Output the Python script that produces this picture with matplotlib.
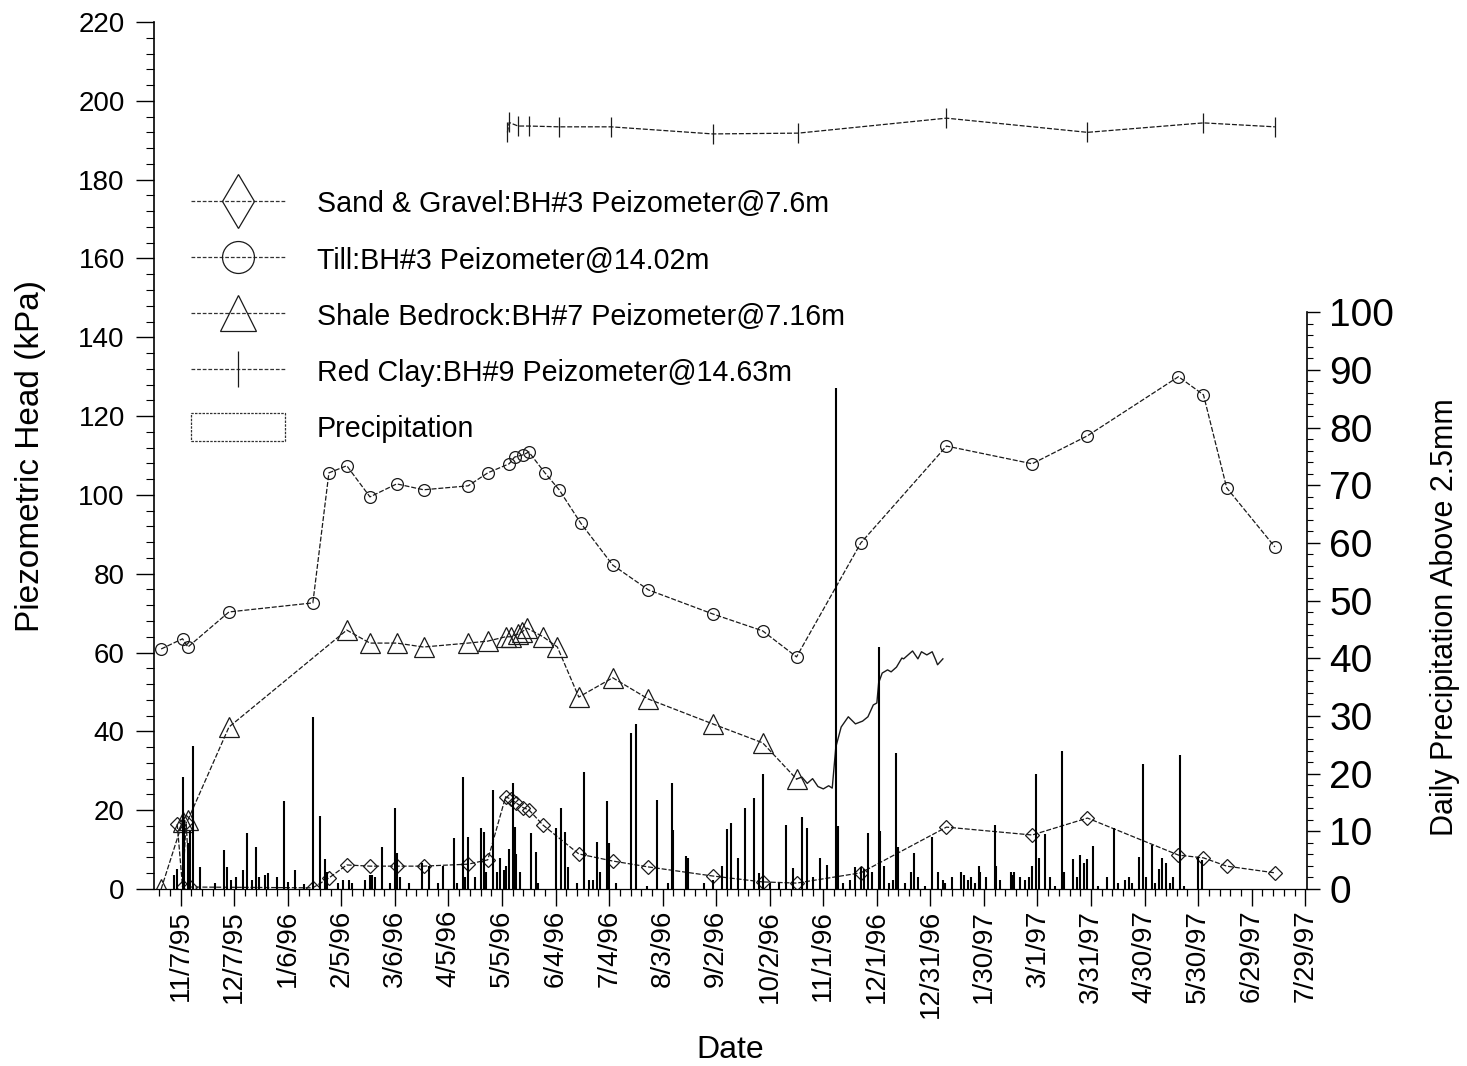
import numpy as np
import pandas as pd
import matplotlib

matplotlib.use('Agg')
import matplotlib.pyplot as plt
from matplotlib.lines import Line2D
from matplotlib.patches import Patch

plt.rcParams['font.family'] = ['Liberation Sans', 'DejaVu Sans']

# Till: BH#3 piezometer @ 14.02 m (kPa)
till_dates = ['1995-10-27', '1995-11-08', '1995-11-11', '1995-12-04', '1996-01-20', '1996-01-29',
              '1996-02-08', '1996-02-21', '1996-03-07', '1996-03-22', '1996-04-16', '1996-04-27',
              '1996-05-09', '1996-05-12', '1996-05-17', '1996-05-20', '1996-05-29', '1996-06-06',
              '1996-06-18', '1996-07-06', '1996-07-26', '1996-08-31', '1996-09-28', '1996-10-17',
              '1996-11-22', '1997-01-09', '1997-02-26', '1997-03-29', '1997-05-19', '1997-06-02',
              '1997-06-15', '1997-07-12']
till_kpa = [60.9, 63.5, 61.4, 70.3, 72.6, 105.6,
            107.4, 99.5, 102.8, 101.3, 102.3, 105.6,
            107.9, 109.6, 110.2, 110.9, 105.6, 101.3,
            92.9, 82.2, 75.9, 69.8, 65.5, 58.9,
            87.8, 112.4, 107.9, 115.0, 130.0, 125.4,
            101.8, 86.8]

# Shale bedrock: BH#7 piezometer @ 7.16 m
shale_dates = ['1995-10-27', '1995-11-08', '1995-11-11', '1995-12-04', '1996-02-08', '1996-02-21',
               '1996-03-07', '1996-03-22', '1996-04-16', '1996-04-27', '1996-05-07', '1996-05-10',
               '1996-05-14', '1996-05-16', '1996-05-19', '1996-05-28', '1996-06-05', '1996-06-17',
               '1996-07-06', '1996-07-26', '1996-08-31', '1996-09-28', '1996-10-17']
shale_kpa = [0.0, 17.0, 17.5, 41.1, 65.7, 62.4,
             62.4, 61.4, 62.4, 62.9, 64.0, 64.0,
             64.7, 65.2, 66.2, 64.0, 61.4, 48.7,
             53.6, 48.2, 41.9, 37.1, 27.9]

# shale logger record (no markers)
logger_dates = ['1996-10-17', '1996-10-20', '1996-10-23', '1996-10-26', '1996-10-29', '1996-11-01',
                '1996-11-04', '1996-11-06', '1996-11-08', '1996-11-11', '1996-11-15', '1996-11-19',
                '1996-11-23', '1996-11-26', '1996-11-29', '1996-12-01', '1996-12-02', '1996-12-04',
                '1996-12-07', '1996-12-09', '1996-12-12', '1996-12-15', '1996-12-16', '1996-12-21',
                '1996-12-24', '1996-12-26', '1996-12-29', '1997-01-01', '1997-01-03', '1997-01-04',
                '1997-01-07']
logger_kpa = [27.9, 28.4, 26.8, 28.0, 26.0, 25.4,
              26.2, 25.6, 36.0, 41.1, 43.7, 41.9,
              42.6, 43.7, 46.7, 47.2, 52.3, 54.8,
              55.6, 55.1, 56.3, 58.6, 58.4, 60.4,
              58.4, 60.2, 59.4, 60.2, 58.1, 56.9,
              58.4]

# Sand & gravel: BH#3 piezometer @ 7.6 m
sand_dates = ['1995-11-05', '1995-11-08', '1995-11-10', '1995-11-12', '1996-01-20', '1996-01-29',
              '1996-02-08', '1996-02-21', '1996-03-07', '1996-03-22', '1996-04-16', '1996-04-27',
              '1996-05-07', '1996-05-10', '1996-05-13', '1996-05-17', '1996-05-20', '1996-05-28',
              '1996-06-17', '1996-07-06', '1996-07-26', '1996-08-31', '1996-09-28', '1996-10-17',
              '1996-11-22', '1997-01-09', '1997-02-26', '1997-03-29', '1997-05-19', '1997-06-02',
              '1997-06-15', '1997-07-12']
sand_kpa = [16.5, 0.5, 17.0, 0.5, 0.3, 2.8,
            6.1, 5.8, 5.8, 5.8, 6.3, 7.4,
            23.4, 22.8, 21.8, 20.6, 20.1, 16.2,
            8.9, 7.1, 5.6, 3.3, 1.8, 1.5,
            4.1, 15.7, 13.7, 18.0, 8.6, 7.9,
            5.8, 4.1]

# Red clay: BH#9 piezometer @ 14.63 m
clay_dates = ['1996-05-08', '1996-05-09', '1996-05-14', '1996-05-20', '1996-06-06', '1996-07-05',
              '1996-08-31', '1996-10-18', '1997-01-09', '1997-03-29', '1997-06-02', '1997-07-12']
clay_kpa = [192.0, 194.5, 193.6, 193.6, 193.4, 193.4,
            191.6, 191.8, 195.6, 192.0, 194.4, 193.4]

# daily precipitation above 2.5 mm, days counted from 11/7/95
rain_day = [-4, -2, 1, 2, 4, 5, 7, 11, 19, 24, 26, 28, 31, 35, 37, 40, 42, 44, 47, 49,
            54, 58, 60, 64, 69, 74, 78, 81, 82, 88, 91, 94, 96, 103, 106, 107, 109, 113, 117, 120,
            121, 123, 128, 135, 139, 144, 147, 153, 155, 158, 159, 161, 165, 168, 170, 171, 175, 177, 179, 181,
            182, 184, 186, 187, 188, 190, 196, 199, 200, 210, 213, 215, 217, 222, 226, 229, 231, 233, 235, 239,
            240, 244, 252, 255, 261, 267, 273, 275, 276, 283, 284, 293, 298, 303, 306, 308, 312, 316, 321, 324,
            326, 330, 335, 339, 343, 348, 351, 354, 358, 362, 367, 368, 371, 375, 378, 381, 383, 385, 387, 391,
            392, 394, 397, 399, 401, 402, 406, 409, 411, 413, 417, 421, 424, 427, 428, 432, 437, 439, 441, 443,
            445, 447, 448, 451, 456, 457, 459, 465, 466, 467, 470, 473, 475, 477, 479, 481, 484, 487, 490, 494,
            495, 500, 502, 504, 506, 508, 511, 514, 519, 523, 525, 529, 531, 533, 537, 539, 541, 544, 546, 548,
            550, 552, 554, 556, 560, 562, 570, 572]
rain_mm = [2.4, 3.5, 19.4, 12.0, 8.0, 10.0, 24.8, 3.8, 1.0, 6.8, 3.8, 1.5, 2.0, 3.3, 9.7, 1.5, 7.3, 2.0, 2.4, 2.8,
           2.0, 15.3, 1.2, 3.3, 0.8, 29.8, 12.7, 5.2, 3.0, 1.0, 1.5, 1.5, 1.0, 1.5, 2.5, 2.5, 2.0, 7.3, 1.0, 14.0,
           6.2, 2.0, 1.0, 4.5, 4.0, 1.0, 4.0, 8.8, 1.0, 19.4, 2.0, 9.0, 2.0, 10.6, 9.9, 3.0, 17.2, 3.0, 5.4, 3.3,
           4.0, 7.0, 18.4, 10.7, 6.0, 3.0, 9.7, 6.4, 1.0, 10.6, 14.0, 9.9, 3.8, 1.0, 20.3, 1.5, 1.5, 8.1, 3.0, 15.3,
           8.0, 1.0, 27.0, 28.6, 0.5, 15.4, 1.0, 18.4, 10.2, 5.7, 5.3, 1.0, 1.5, 4.0, 10.4, 11.4, 5.4, 14.0, 15.8, 2.8,
           19.9, 1.0, 1.0, 11.1, 3.6, 12.5, 10.6, 2.0, 5.4, 4.2, 86.8, 11.0, 1.0, 1.5, 3.8, 3.8, 3.5, 9.7, 3.0, 41.9,
           10.0, 4.0, 1.0, 1.5, 23.6, 7.3, 1.0, 3.0, 6.2, 2.0, 0.5, 9.0, 3.0, 1.5, 1.0, 2.0, 3.0, 2.5, 1.5, 2.0,
           1.0, 4.0, 3.0, 2.0, 11.1, 4.0, 1.5, 3.0, 2.5, 3.0, 2.0, 1.5, 2.0, 4.0, 19.9, 5.4, 9.5, 2.0, 0.5, 23.9,
           3.0, 5.2, 2.0, 5.9, 4.5, 5.2, 7.5, 0.5, 2.0, 10.6, 1.0, 1.5, 2.0, 1.0, 5.6, 21.7, 2.0, 7.6, 1.0, 3.5,
           5.3, 4.5, 1.0, 2.0, 23.2, 0.5, 5.5, 5.0]

series_labels = ['Sand & Gravel:BH#3 Peizometer@7.6m', 'Till:BH#3 Peizometer@14.02m',
                 'Shale Bedrock:BH#7 Peizometer@7.16m', 'Red Clay:BH#9 Peizometer@14.63m', 'Precipitation']


def main():
    fig = plt.figure(figsize=(14.67, 10.66), dpi=100)
    ax = fig.add_axes([154 / 1467, 1 - 889 / 1066, 1153 / 1467, 867 / 1066])
    ax2 = ax.twinx()

    line_kw = dict(color='0.1', lw=0.9, ls=(0, (4, 1.5)), mfc='none', mec='0.1', mew=0.9)

    ax.plot(pd.to_datetime(sand_dates), sand_kpa, marker='D', ms=7, **line_kw)
    ax.plot(pd.to_datetime(till_dates), till_kpa, marker='o', ms=8.5, **line_kw)
    ax.plot(pd.to_datetime(shale_dates), shale_kpa, marker='^', ms=14, **line_kw)
    ax.plot(pd.to_datetime(logger_dates), logger_kpa, color='0.1', lw=1.0)
    ax.plot(pd.to_datetime(clay_dates), clay_kpa, marker='|', ms=15, **line_kw)

    # precipitation on the right axis
    base = pd.Timestamp('1995-11-07')
    rain_dates = base + pd.to_timedelta(rain_day, unit='D')
    ax2.vlines(rain_dates, 0, rain_mm, color='black', lw=1.5)

    # x axis: 30 day majors, 6 day minors
    major = pd.date_range('1995-11-07', '1997-07-29', freq='30D')
    minor = pd.date_range('1995-10-26', '1997-07-29', freq='6D')
    ax.set_xlim(pd.Timestamp('1995-10-23'), pd.Timestamp('1997-07-30'))
    ax.set_xticks(major)
    ax.set_xticks(minor, minor=True)
    ax.set_xticklabels([f'{d.month}/{d.day}/{d:%y}' for d in major], rotation=90, fontsize=20)
    ax.tick_params(axis='x', which='major', length=12, width=1, pad=3)
    ax.tick_params(axis='x', which='minor', length=5, width=0.9)

    ax.set_ylim(0, 220)
    ax.set_yticks(np.arange(0, 221, 20))
    ax.set_yticks(np.arange(0, 221, 4), minor=True)
    ax.tick_params(axis='y', which='major', length=13, width=1, pad=8, labelsize=20)
    ax.tick_params(axis='y', which='minor', length=6, width=0.8)

    ax2.set_ylim(0, 150.3)
    ax2.set_yticks(np.arange(0, 101, 10))
    ax2.set_yticks(np.arange(0, 101, 2), minor=True)
    ax2.tick_params(axis='y', which='major', length=9, width=1, pad=7, labelsize=28)
    ax2.tick_params(axis='y', which='minor', length=4, width=0.8)

    for s in ['top', 'right']:
        ax.spines[s].set_visible(False)
    for s in ['top', 'left', 'bottom']:
        ax2.spines[s].set_visible(False)
    ax2.spines['right'].set_bounds(0, 100)
    ax2.spines['right'].set_linewidth(1.2)
    ax.spines['left'].set_linewidth(1.2)
    ax.spines['bottom'].set_linewidth(0.9)

    ax.set_ylabel('Piezometric Head (kPa)', fontsize=24)
    ax.yaxis.set_label_coords(-0.094, 0.5)
    ax.set_xlabel('Date', fontsize=23)
    ax.xaxis.set_label_coords(0.5, -0.168)
    ax2.set_ylabel('Daily Precipitation Above 2.5mm', fontsize=22)
    ax2.yaxis.set_label_coords(1.107, 0.314)

    leg_kw = dict(color='0.2', lw=0.9, ls=(0, (3, 1.5)), mfc='none', mec='0.1', mew=0.9)
    handles = [Line2D([], [], marker='d', ms=28, **leg_kw),
               Line2D([], [], marker='o', ms=23, **leg_kw),
               Line2D([], [], marker='^', ms=26, **leg_kw),
               Line2D([], [], marker='|', ms=26, **leg_kw),
               Patch(facecolor='white', edgecolor='0.2', ls=(0, (2, 1)), lw=0.9)]
    ax2.legend(handles, series_labels, loc='upper left', bbox_to_anchor=(191 / 1467, 1 - 189 / 1066),
               bbox_transform=fig.transFigure, frameon=False, fontsize=20.6, handlelength=3.3,
               handletextpad=1.1, labelspacing=0.93, handleheight=1.1, borderpad=0, borderaxespad=0)

    fig.savefig('out.png', dpi=100)


if __name__ == '__main__':
    main()
